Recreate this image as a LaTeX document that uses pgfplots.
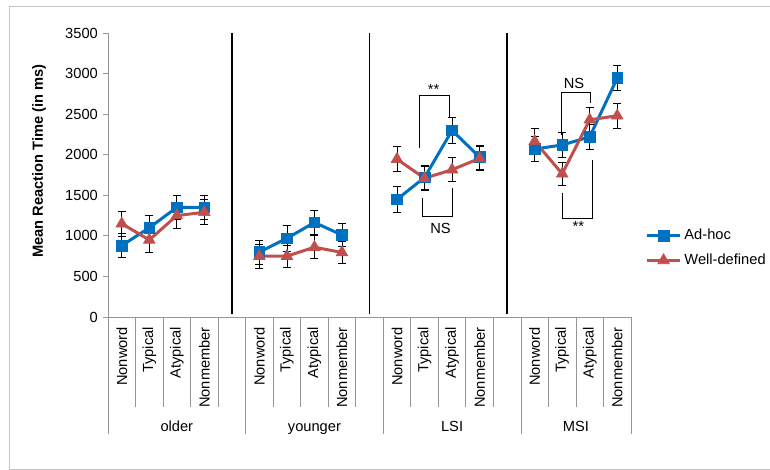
\documentclass[border=0pt]{standalone}
\usepackage{pgfplots}
\pgfplotsset{compat=1.18}
\usepackage{fontspec}
\setmainfont{Liberation Sans}
\definecolor{adhoc}{RGB}{0,112,192}
\definecolor{welldef}{RGB}{192,80,77}
\definecolor{axgray}{RGB}{150,150,150}
\begin{document}
\fontsize{11pt}{13pt}\selectfont
\begin{tikzpicture}
\path[use as bounding box] (0,0) rectangle (577.5pt,352.5pt);
\draw[gray!45, line width=0.6pt] (7.1pt,0.75pt) -- (7.1pt,348pt) -- (578pt,348pt);
\draw[gray!45, line width=0.6pt] (7.1pt,0.75pt) -- (578pt,0.75pt);
\begin{axis}[
  scale only axis, width=392.25pt, height=213pt,
  at={(81pt,114.75pt)}, anchor=south west,
  xmin=-0.5, xmax=18.5, ymin=0, ymax=3500,
  axis x line=bottom, axis y line=left,
  axis line style={-, draw=axgray, line width=0.6pt},
  ytick={0,500,...,3500},
  tick align=outside, major tick length=3.75pt,
  y tick style={draw=axgray, line width=0.6pt},
  x tick style={draw=none},
  xtick={0,1,2,3,5,6,7,8,10,11,12,13,15,16,17,18},
  xticklabels={Nonword,Typical,Atypical,Nonmember,Nonword,Typical,Atypical,Nonmember,Nonword,Typical,Atypical,Nonmember,Nonword,Typical,Atypical,Nonmember},
  xticklabel style={rotate=90, anchor=east, font=\fontsize{11pt}{13pt}\selectfont},
  yticklabel style={font=\fontsize{11pt}{13pt}\selectfont},
  /pgf/number format/assume math mode=true,
  /pgf/number format/1000 sep={},
  clip=false,
  unbounded coords=jump,
  ylabel={\bfseries Mean Reaction Time (in ms)},
  ylabel style={at={(axis description cs:-0.132,0.549)}, anchor=center, font=\fontsize{11pt}{13pt}\selectfont\bfseries},
  legend style={at={(axis description cs:1.027,0.243)}, anchor=west, draw=none, fill=none,
    font=\fontsize{11pt}{13pt}\selectfont, row sep=5pt, inner sep=0pt},
  legend cell align=left,
  legend image code/.code={\draw[mark repeat=2,mark phase=2] plot coordinates {(0cm,0cm) (0.44cm,0cm) (0.88cm,0cm)};},
]
% group dividers
\draw[black, line width=1.1pt] (axis cs:4,3500) -- (axis cs:4,40);
\draw[black, line width=1.1pt] (axis cs:9,3500) -- (axis cs:9,40);
\draw[black, line width=1.1pt] (axis cs:14,3500) -- (axis cs:14,40);
% category separators
\pgfplotsinvokeforeach{0.5,1.5,2.5,3.5,5.5,6.5,7.5,8.5,10.5,11.5,12.5,13.5,15.5,16.5,17.5}{
  \draw[axgray, line width=0.6pt] (axis cs:#1,0) -- ([yshift=-67.5pt]axis cs:#1,0);
}
\pgfplotsinvokeforeach{-0.5,4.5,9.5,14.5,18.5}{
  \draw[axgray, line width=0.6pt] (axis cs:#1,0) -- ([yshift=-87.75pt]axis cs:#1,0);
}
\node[anchor=base] at ([yshift=-85.5pt]axis cs:2,0) {older};
\node[anchor=base] at ([yshift=-85.5pt]axis cs:7,0) {younger};
\node[anchor=base] at ([yshift=-85.5pt]axis cs:12,0) {LSI};
\node[anchor=base] at ([yshift=-85.5pt]axis cs:16.5,0) {MSI};

\addplot[color=adhoc, line width=2.25pt, mark=square*, mark size=4pt,
  mark options={solid, fill=adhoc, line width=0.5pt},
  error bars/.cd, y dir=both, y explicit,
  error bar style={black, line width=0.6pt},
  error mark options={rotate=90, mark size=3pt, black, line width=0.6pt}]
  table[x=x, y=y, y error=e] {
x y e
0 880 150
1 1100 155
2 1350 150
3 1350 150
4 nan 0
5 800 150
6 970 160
7 1165 150
8 1010 145
9 nan 0
10 1450 155
11 1720 150
12 2300 155
13 1970 150
14 nan 0
15 2070 155
16 2120 155
17 2220 150
18 2945 150
};
\addlegendentry{Ad-hoc}

\addplot[color=welldef, line width=2.25pt, mark=triangle*, mark size=5pt,
  mark options={solid, fill=welldef, line width=0.5pt},
  error bars/.cd, y dir=both, y explicit,
  error bar style={black, line width=0.6pt},
  error mark options={rotate=90, mark size=3pt, black, line width=0.6pt}]
  table[x=x, y=y, y error=e] {
x y e
0 1150 155
1 950 150
2 1250 155
3 1290 155
4 nan 0
5 750 145
6 750 135
7 860 140
8 795 135
9 nan 0
10 1945 155
11 1710 145
12 1815 150
13 1955 150
14 nan 0
15 2165 160
16 1765 145
17 2430 150
18 2480 155
};
\addlegendentry{Well-defined}

% significance brackets
\draw[black, line width=0.6pt] (axis cs:10.81,2080) -- (axis cs:10.81,2730) -- (axis cs:11.90,2730) -- (axis cs:11.90,2470);
\node at (axis cs:11.33,2800) {**};
\draw[black, line width=0.6pt] (axis cs:10.92,1462) -- (axis cs:10.92,1244) -- (axis cs:12.02,1244) -- (axis cs:12.02,1586);
\node at (axis cs:11.58,1092) {NS};
\draw[black, line width=0.6pt] (axis cs:15.98,2245) -- (axis cs:15.98,2768) -- (axis cs:17.04,2768) -- (axis cs:17.04,2636);
\node at (axis cs:16.43,2875) {NS};
\draw[black, line width=0.6pt] (axis cs:16.01,1532) -- (axis cs:16.01,1215) -- (axis cs:17.11,1215) -- (axis cs:17.11,1936);
\node at (axis cs:16.59,1110) {**};
\end{axis}
\end{tikzpicture}
\end{document}
